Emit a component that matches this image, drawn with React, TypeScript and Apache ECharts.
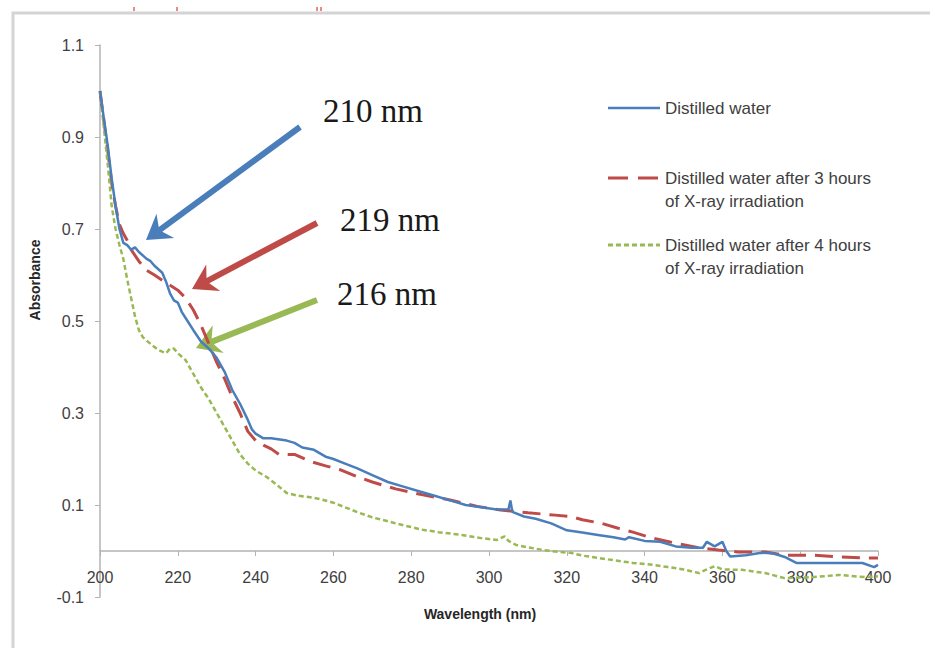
import React, { useEffect, useRef } from "react";
import * as echarts from "echarts";

// ---- data ----
const xTicks = [200, 220, 240, 260, 280, 300, 320, 340, 360, 380, 400];
const yTicks = [-0.1, 0.1, 0.3, 0.5, 0.7, 0.9, 1.1];

const seriesNames = [
  "Distilled water",
  "Distilled water after 3 hours\nof X-ray irradiation",
  "Distilled water after 4 hours\nof X-ray irradiation",
];

const waterX = [200, 201, 202, 203, 204, 205, 206, 207, 208, 209, 210, 212, 213, 214, 216, 217, 218, 219, 220, 221, 222.5, 224, 226, 228, 230, 232, 234, 236, 238, 239, 240, 242, 244, 248, 250, 252, 255, 258, 260, 263, 266, 270, 274, 278, 282, 286, 290, 294, 298, 302, 305, 305.5, 306, 309, 312, 316, 320, 324, 328, 332, 335, 336, 340, 344, 348, 352, 355, 356, 358, 360, 361, 362, 366, 370, 373, 376, 379, 385, 390, 396, 399, 400];
const waterY = [1.0, 0.94, 0.88, 0.81, 0.75, 0.7, 0.67, 0.665, 0.655, 0.66, 0.65, 0.635, 0.63, 0.62, 0.605, 0.585, 0.56, 0.545, 0.54, 0.52, 0.5, 0.48, 0.455, 0.44, 0.42, 0.39, 0.35, 0.32, 0.285, 0.265, 0.255, 0.245, 0.245, 0.24, 0.235, 0.225, 0.22, 0.205, 0.2, 0.19, 0.18, 0.165, 0.15, 0.14, 0.13, 0.12, 0.11, 0.1, 0.095, 0.09, 0.09, 0.11, 0.085, 0.075, 0.07, 0.06, 0.045, 0.04, 0.035, 0.03, 0.025, 0.03, 0.022, 0.02, 0.01, 0.007, 0.007, 0.02, 0.01, 0.02, 0.0, -0.012, -0.009, -0.004, -0.005, -0.013, -0.026, -0.026, -0.026, -0.026, -0.035, -0.03];

const x3hX = [200, 202, 203, 204, 205, 206, 207, 208, 210, 212, 214, 217, 220, 222, 224, 226, 228, 230, 232, 234, 236, 238, 240, 242, 244, 246, 250, 254, 258, 262, 266, 270, 276, 283, 290, 297, 303, 310, 317, 321, 324, 329, 333, 337, 342, 348, 354, 359, 364, 371, 376, 383, 390, 397, 400];
const x3hY = [1.0, 0.87, 0.8, 0.75, 0.71, 0.69, 0.675, 0.655, 0.63, 0.61, 0.6, 0.583, 0.567, 0.55, 0.524, 0.49, 0.45, 0.41, 0.375, 0.335, 0.3, 0.26, 0.24, 0.23, 0.222, 0.21, 0.21, 0.195, 0.185, 0.176, 0.162, 0.15, 0.135, 0.122, 0.111, 0.097, 0.089, 0.083, 0.078, 0.075, 0.068, 0.06, 0.05, 0.041, 0.028, 0.017, 0.007, 0.002, -0.002, -0.002, -0.009, -0.009, -0.013, -0.015, -0.015];

const x4hX = [200, 201, 202, 203, 204, 205, 206, 207, 208, 209, 210, 211, 213, 215, 217, 218, 219, 220, 222, 224, 226, 228, 230, 232, 234, 236, 238, 240, 243, 246, 248, 251, 254, 257, 260, 263, 266, 270, 273, 276, 280, 283, 287, 293, 298, 302, 304, 305, 307, 310, 314, 318, 321, 324, 328, 332, 337, 342, 346, 350, 354, 356, 358, 360, 365, 371, 376, 383, 390, 397, 400];
const x4hY = [1.0, 0.92, 0.84, 0.75, 0.7, 0.665, 0.635, 0.59, 0.55, 0.51, 0.48, 0.465, 0.45, 0.437, 0.43, 0.44, 0.44, 0.43, 0.415, 0.385, 0.355, 0.33, 0.3, 0.27, 0.24, 0.21, 0.19, 0.175, 0.16, 0.14, 0.126, 0.12, 0.117, 0.112, 0.105, 0.095, 0.085, 0.073, 0.067, 0.06, 0.052, 0.046, 0.041, 0.035, 0.028, 0.024, 0.032, 0.022, 0.013, 0.008, 0.002, -0.002, -0.004, -0.01, -0.015, -0.02, -0.026, -0.03, -0.035, -0.04, -0.048, -0.04, -0.033, -0.04, -0.041, -0.048, -0.059, -0.057, -0.052, -0.057, -0.055];

const annotationLabels = ["210 nm", "219 nm", "216 nm"];

const BLUE = "#4a7ebb";
const RED = "#be4b48";
const GREEN = "#98b954";

function arrowPoints(tail: number[], tip: number[], shaft: number, headW: number, headL: number) {
  const dx = tip[0] - tail[0];
  const dy = tip[1] - tail[1];
  const len = Math.sqrt(dx * dx + dy * dy);
  const ux = dx / len, uy = dy / len;
  const nx = -uy, ny = ux;
  const neck = [tip[0] - ux * headL * 0.75, tip[1] - uy * headL * 0.75];
  const barb = [tip[0] - ux * headL, tip[1] - uy * headL];
  return [
    [tail[0] + nx * shaft / 2, tail[1] + ny * shaft / 2],
    [neck[0] + nx * shaft / 2, neck[1] + ny * shaft / 2],
    [barb[0] + nx * headW / 2, barb[1] + ny * headW / 2],
    tip,
    [barb[0] - nx * headW / 2, barb[1] - ny * headW / 2],
    [neck[0] - nx * shaft / 2, neck[1] - ny * shaft / 2],
    [tail[0] - nx * shaft / 2, tail[1] - ny * shaft / 2],
  ];
}

const pair = (xs: number[], ys: number[]) => xs.map((x, i) => [x, ys[i]]);

export default function App() {
  const ref = useRef<HTMLDivElement>(null);
  useEffect(() => {
    if (!ref.current) return;
    const chart = echarts.init(ref.current, null, { renderer: "svg" });
    const labelFont = { fontFamily: "Liberation Sans", fontSize: 16, color: "#404040" };
    const arrows = [
      { tail: [300, 127], tip: [146, 240], color: BLUE },
      { tail: [317, 223], tip: [192, 289], color: RED },
      { tail: [317, 300], tip: [196, 348], color: GREEN },
    ];
    const annPos = [
      [323, 110.5],
      [340, 219.5],
      [337, 293.5],
    ];
    const legendY = [108, 178, 245];
    const legendColors = [BLUE, RED, GREEN];
    const legendDash: any[] = [null, [20, 10], [5, 3]];
    const gridTop = 45;
    const gridBottom = 51;
    const plotH = 648 - gridTop - gridBottom;
    const yMin = yTicks[0];
    const yMax = yTicks[yTicks.length - 1];
    // distance from plot bottom up to the value 0, where the category axis crosses
    const zeroOffset = (plotH * (0 - yMin)) / (yMax - yMin);
    const graphic: any[] = [
      {
        type: "rect",
        shape: { x: 13, y: 13, width: 940, height: 660 },
        style: { fill: "none", stroke: "#d4d4d4", lineWidth: 3 },
        silent: true,
      },
      ...[133, 176, 316, 320].map((x) => ({
        type: "rect",
        shape: { x, y: 7, width: 2, height: 4 },
        style: { fill: "#e88a8a" },
        silent: true,
      })),
      ...arrows.map((a) => ({
        type: "polygon",
        shape: { points: arrowPoints(a.tail, a.tip, 6, 30, 24) },
        style: { fill: a.color },
        silent: true,
      })),
      ...annotationLabels.map((t, i) => ({
        type: "text",
        x: annPos[i][0],
        y: annPos[i][1],
        style: {
          text: t,
          fontFamily: "Liberation Serif",
          fontSize: 33,
          fill: "#1a1a1a",
          verticalAlign: "middle",
          align: "left",
        },
      })),
      ...seriesNames.map((n, i) => ({
        type: "line",
        shape: { x1: 608, y1: legendY[i], x2: 660, y2: legendY[i] },
        style: { stroke: legendColors[i], lineWidth: i === 0 ? 2.5 : 3, lineDash: legendDash[i] || undefined },
        silent: true,
      })),
      ...seriesNames.map((n, i) => ({
        type: "text",
        x: 665,
        y: legendY[i] - 11.5,
        style: {
          text: n,
          fontFamily: "Liberation Sans",
          fontSize: 17,
          lineHeight: 23,
          fill: "#404040",
          verticalAlign: "top",
          align: "left",
        },
      })),
      {
        type: "text",
        x: 35,
        y: 280,
        rotation: Math.PI / 2,
        style: {
          text: "Absorbance",
          fontFamily: "Liberation Sans",
          fontWeight: "bold",
          fontSize: 14,
          fill: "#262626",
          align: "center",
          verticalAlign: "middle",
        },
      },
      {
        type: "text",
        x: 480,
        y: 614,
        style: {
          text: "Wavelength (nm)",
          fontFamily: "Liberation Sans",
          fontWeight: "bold",
          fontSize: 14,
          fill: "#262626",
          align: "center",
          verticalAlign: "middle",
        },
      },
    ];

    chart.setOption({
      animation: false,
      backgroundColor: "#ffffff",
      grid: { left: 100, right: 52, top: gridTop, bottom: gridBottom, containLabel: false },
      xAxis: {
        type: "value",
        min: xTicks[0],
        max: xTicks[xTicks.length - 1],
        interval: 20,
        offset: -zeroOffset,
        axisLine: { show: true, onZero: false, lineStyle: { color: "#b3b3b3", width: 1.5 } },
        axisTick: { show: true, length: 5, lineStyle: { color: "#b3b3b3" } },
        axisLabel: { ...labelFont, margin: 18, formatter: (v: number) => String(Math.round(v)) },
        splitLine: { show: false },
      },
      yAxis: {
        type: "value",
        min: yMin,
        max: yMax,
        interval: 0.2,
        axisLine: { show: true, onZero: false, lineStyle: { color: "#b3b3b3", width: 1.5 } },
        axisTick: { show: true, length: 5, lineStyle: { color: "#b3b3b3" } },
        axisLabel: { ...labelFont, margin: 16, formatter: (v: number) => (Math.round(v * 10) / 10).toFixed(1) },
        splitLine: { show: false },
      },
      series: [
        {
          name: seriesNames[0],
          type: "line",
          data: pair(waterX, waterY),
          showSymbol: false,
          symbol: "none",
          lineStyle: { color: BLUE, width: 2.5 },
          z: 3,
        },
        {
          name: seriesNames[1],
          type: "line",
          data: pair(x3hX, x3hY),
          showSymbol: false,
          symbol: "none",
          lineStyle: { color: RED, width: 3, type: [18, 9] },
          z: 2,
        },
        {
          name: seriesNames[2],
          type: "line",
          data: pair(x4hX, x4hY),
          showSymbol: false,
          symbol: "none",
          lineStyle: { color: GREEN, width: 2.5, type: [5, 3] },
          z: 2,
        },
      ],
      graphic,
    });
    return () => chart.dispose();
  }, []);
  return <div ref={ref} style={{ position: "fixed", left: 0, top: 0, width: 930, height: 648 }} />;
}
